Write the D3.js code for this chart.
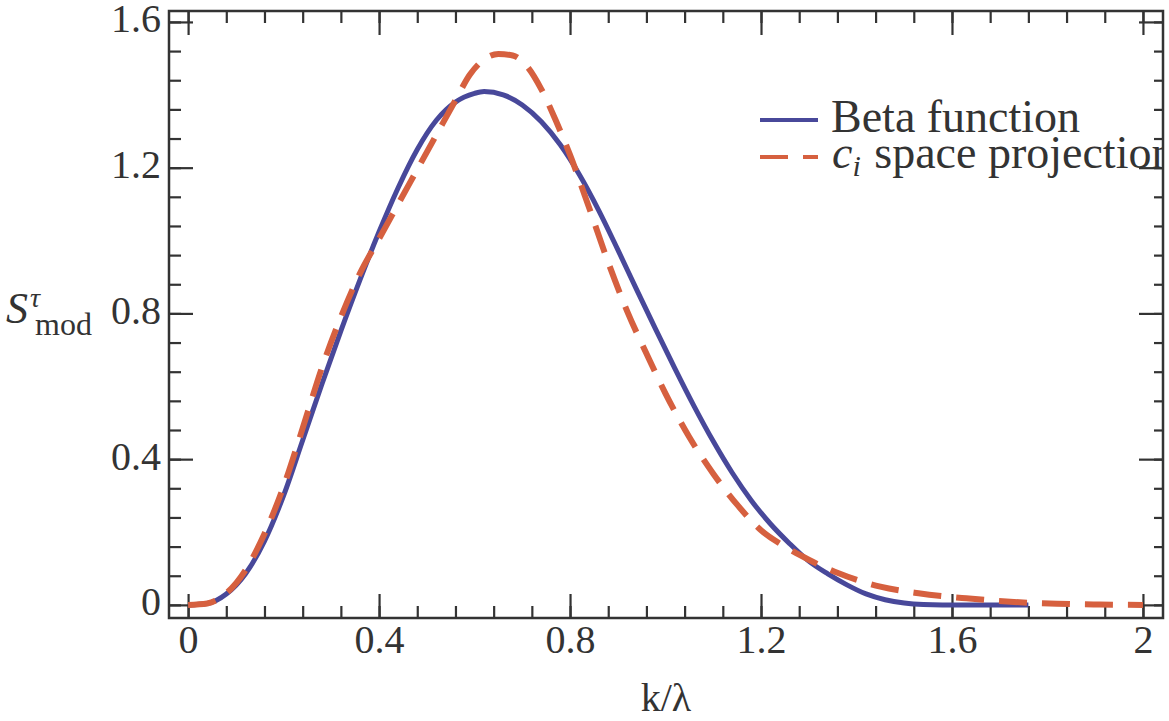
<!DOCTYPE html>
<html>
<head>
<meta charset="utf-8">
<script src="https://cdn.jsdelivr.net/npm/d3@7"></script>
<style>
  body { margin: 0; background: #fff; }
  text { font-family: "Liberation Serif", "Times New Roman", serif; fill: #333; }
</style>
</head>
<body>
<div id="chart"></div>
<script>
// Beta function curve (k/lambda, S)
var kBeta = [0, 0.04, 0.08, 0.12, 0.16, 0.2, 0.24, 0.28, 0.32, 0.36, 0.40, 0.44, 0.48, 0.52, 0.56, 0.60,
  0.62, 0.66, 0.70, 0.74, 0.78, 0.82, 0.86, 0.90, 0.94, 0.98, 1.02, 1.06, 1.10, 1.14, 1.18, 1.22, 1.26,
  1.30, 1.34, 1.38, 1.42, 1.46, 1.50, 1.54, 1.58, 1.76];
var sBeta = [0, 0.004, 0.03, 0.085, 0.175, 0.3, 0.452, 0.605, 0.752, 0.892, 1.024, 1.145, 1.25, 1.33, 1.38, 1.404,
  1.409, 1.40, 1.372, 1.326, 1.262, 1.18, 1.083, 0.975, 0.864, 0.755, 0.648, 0.545, 0.449, 0.362, 0.286, 0.222, 0.168,
  0.12, 0.085, 0.055, 0.03, 0.014, 0.005, 0.001, 0, 0];

// c_i space projection curve
var kProj = [0, 0.04, 0.08, 0.12, 0.16, 0.2, 0.24, 0.28, 0.32, 0.36, 0.40, 0.44, 0.48, 0.52, 0.56, 0.59,
  0.62, 0.65, 0.68, 0.71, 0.74, 0.77, 0.80, 0.84, 0.88, 0.92, 0.96, 1.00, 1.05, 1.10, 1.15, 1.20, 1.25,
  1.30, 1.36, 1.45, 1.53, 1.63, 1.73, 1.82, 1.91, 2.0];
var sProj = [0, 0.004, 0.032, 0.095, 0.195, 0.325, 0.485, 0.65, 0.79, 0.91, 1.005, 1.1, 1.195, 1.29, 1.385, 1.455,
  1.497, 1.512, 1.508, 1.478, 1.415, 1.33, 1.235, 1.09, 0.94, 0.805, 0.69, 0.58, 0.46, 0.36, 0.275, 0.205, 0.16,
  0.124, 0.088, 0.05, 0.032, 0.018, 0.008, 0.003, 0.001, 0];

var xTicks = [0, 0.4, 0.8, 1.2, 1.6, 2];
var xTickLabels = ["0", "0.4", "0.8", "1.2", "1.6", "2"];
var yTicks = [0, 0.4, 0.8, 1.2, 1.6];
var yTickLabels = ["0", "0.4", "0.8", "1.2", "1.6"];
var minorStep = 0.08;

var W = 1169, H = 721;
var pLeft = 169, pRight = 1163, pTop = 11, pBottom = 618;

var svg = d3.select("#chart").append("svg")
    .attr("width", W)
    .attr("height", H);

var x = d3.scaleLinear().domain([-0.04, 2.042]).range([pLeft, pRight]);
var y = d3.scaleLinear().domain([-0.036, 1.63]).range([pBottom, pTop]);

var minorX = d3.range(0, 2.0001, minorStep);
var minorY = d3.range(0, 1.6001, minorStep);

function styleAxis(g) {
    g.select(".domain").remove();
    g.selectAll("line").attr("stroke", "#333").attr("stroke-width", 2.2);
}

// bottom
svg.append("g").attr("transform", "translate(0," + pBottom + ")")
    .call(d3.axisBottom(x).tickValues(minorX).tickSize(-12).tickFormat(""))
    .call(styleAxis);
svg.append("g").attr("transform", "translate(0," + pBottom + ")")
    .call(d3.axisBottom(x).tickValues(xTicks).tickSize(-24).tickPadding(7)
        .tickFormat(function(d, i) { return xTickLabels[i]; }))
    .call(styleAxis)
    .selectAll("text").attr("font-size", 40).attr("fill", "#333");
// top
svg.append("g").attr("transform", "translate(0," + pTop + ")")
    .call(d3.axisTop(x).tickValues(minorX).tickSize(-12).tickFormat(""))
    .call(styleAxis);
svg.append("g").attr("transform", "translate(0," + pTop + ")")
    .call(d3.axisTop(x).tickValues(xTicks).tickSize(-24).tickFormat(""))
    .call(styleAxis);
// left
svg.append("g").attr("transform", "translate(" + pLeft + ",0)")
    .call(d3.axisLeft(y).tickValues(minorY).tickSize(-12).tickFormat(""))
    .call(styleAxis);
svg.append("g").attr("transform", "translate(" + pLeft + ",0)")
    .call(d3.axisLeft(y).tickValues(yTicks).tickSize(-24).tickPadding(8)
        .tickFormat(function(d, i) { return yTickLabels[i]; }))
    .call(styleAxis)
    .selectAll("text").attr("font-size", 40).attr("fill", "#333").attr("dy", "0.25em");
// right
svg.append("g").attr("transform", "translate(" + pRight + ",0)")
    .call(d3.axisRight(y).tickValues(minorY).tickSize(-9).tickFormat(""))
    .call(styleAxis);
svg.append("g").attr("transform", "translate(" + pRight + ",0)")
    .call(d3.axisRight(y).tickValues(yTicks).tickSize(-24).tickFormat(""))
    .call(styleAxis);

// clip
svg.append("clipPath").attr("id", "plotclip")
  .append("rect")
    .attr("x", pLeft).attr("y", pTop)
    .attr("width", pRight - pLeft).attr("height", pBottom - pTop);

var line = d3.line()
    .curve(d3.curveMonotoneX)
    .x(function(d) { return x(d[0]); })
    .y(function(d) { return y(d[1]); });

var blue = "#48489a", red = "#d6603f";

svg.append("path")
    .datum(kBeta.map(function(k, i) { return [k, sBeta[i]]; }))
    .attr("clip-path", "url(#plotclip)")
    .attr("fill", "none")
    .attr("stroke", blue)
    .attr("stroke-width", 5)
    .attr("d", line);

svg.append("path")
    .datum(kProj.map(function(k, i) { return [k, sProj[i]]; }))
    .attr("clip-path", "url(#plotclip)")
    .attr("fill", "none")
    .attr("stroke", red)
    .attr("stroke-width", 6)
    .attr("stroke-dasharray", "28,15")
    .attr("d", line);

// legend
var leg = svg.append("g").attr("clip-path", "url(#plotclip)");
leg.append("line").attr("x1", 760).attr("x2", 818).attr("y1", 120).attr("y2", 120)
    .attr("stroke", blue).attr("stroke-width", 4);
leg.append("line").attr("x1", 760).attr("x2", 818).attr("y1", 157).attr("y2", 157)
    .attr("stroke", red).attr("stroke-width", 4).attr("stroke-dasharray", "28,15");
leg.append("text").attr("x", 831).attr("y", 132).attr("font-size", 46).text("Beta function");
var t2 = leg.append("text").attr("x", 832).attr("y", 168).attr("font-size", 46);
t2.append("tspan").attr("font-style", "italic").text("c");
t2.append("tspan").attr("font-style", "italic").attr("font-size", 30).attr("dy", 8).text("i");
t2.append("tspan").attr("dy", -8).attr("dx", 2).text(" space projection");

// frame
svg.append("rect")
    .attr("x", pLeft).attr("y", pTop)
    .attr("width", pRight - pLeft).attr("height", pBottom - pTop)
    .attr("fill", "none").attr("stroke", "#333").attr("stroke-width", 2.5);

// axis labels
svg.append("text").attr("x", 666).attr("y", 711).attr("text-anchor", "middle")
    .attr("font-size", 40).text("k/λ");
var yl = svg.append("text").attr("x", 6).attr("y", 323).attr("font-size", 44);
yl.append("tspan").attr("font-style", "italic").text("S");
yl.append("tspan").attr("font-style", "italic").attr("font-size", 28).attr("dx", 2).attr("dy", -16).text("τ");
svg.append("text").attr("x", 35).attr("y", 335).attr("font-size", 32).text("mod");
</script>
</body>
</html>
